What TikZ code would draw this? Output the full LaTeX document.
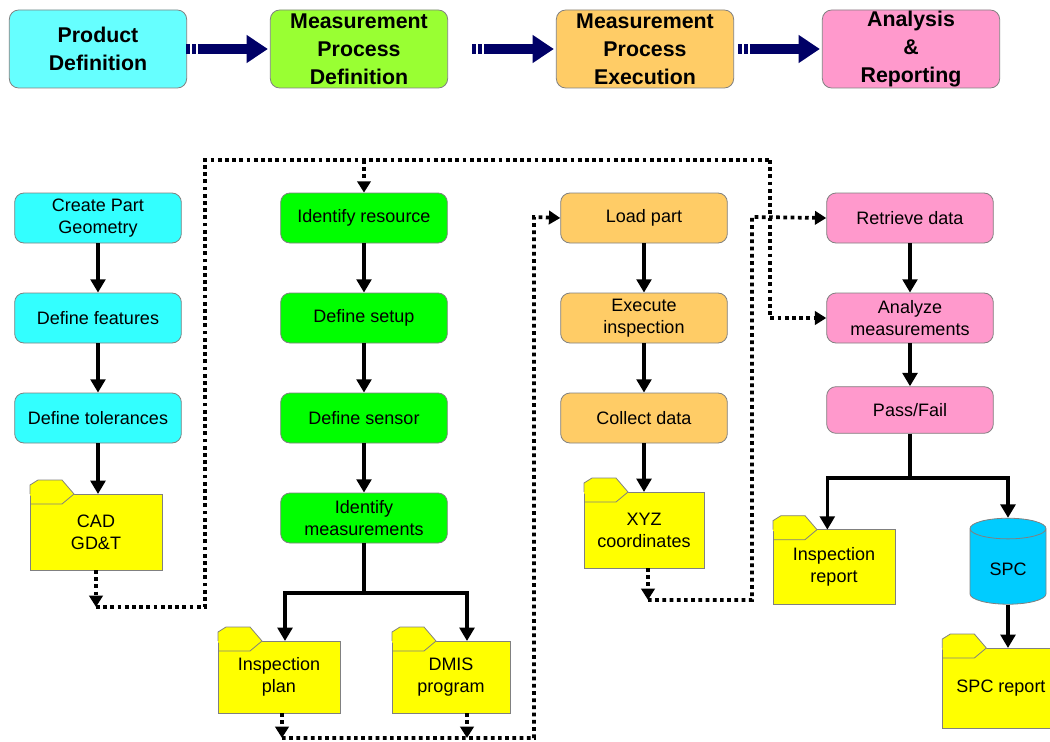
\documentclass[tikz,border=0pt]{standalone}
\usepackage{fontspec}
\setmainfont{Liberation Sans}
\usepackage{tikz}
\usetikzlibrary{positioning, arrows.meta, shapes.geometric}
\usepackage{xcolor}

\definecolor{hdrcyan}{RGB}{102,255,255}
\definecolor{hdrgreen}{RGB}{153,255,51}
\definecolor{hdrorange}{RGB}{255,204,102}
\definecolor{hdrpink}{RGB}{255,153,204}
\definecolor{boxcyan}{RGB}{51,255,255}
\definecolor{boxgreen}{RGB}{0,255,0}
\definecolor{folderyellow}{RGB}{255,255,0}
\definecolor{spcblue}{RGB}{0,204,255}
\definecolor{navyarrow}{RGB}{0,0,102}
\definecolor{edgegray}{RGB}{128,128,128}

\newcommand{\foldertab}[1]{%
  \fill[folderyellow] (#1.north west) -- ++(0,-9) -- ++(8,-5) -- ++(24,0) -- ++(12,14) -- ++(0,1.5) -- ++(-44,0) -- cycle;
  \draw[edgegray] (#1.north west) -- ++(0,-9) -- ++(8,-5) -- ++(24,0) -- ++(12,14);
  \draw[edgegray] (#1.north west) ++(0,10) -- ++(32,0) -- ++(12,-10);
}

\begin{document}
\begin{tikzpicture}[x=0.75pt, y=-0.75pt, >={Triangle[width=11pt,length=10pt]},
                node distance=75pt, semithick,
                hdr/.style={draw=edgegray, rounded corners=7pt, minimum width=133pt, minimum height=58.5pt,
                            inner ysep=0pt, align=center, font=\fontsize{16}{21}\selectfont\bfseries},
                task/.style={draw=edgegray, rounded corners=7pt, minimum width=125pt, minimum height=37.5pt,
                             align=center, font=\fontsize{13.5}{16.5}\selectfont},
                folder/.style={draw=edgegray, fill=folderyellow, outer sep=0pt, align=center,
                               font=\fontsize{13.5}{16.5}\selectfont},
                flow/.style={->, line width=2.6pt},
                link/.style={line width=2.6pt},
                dots/.style={line width=2.8pt, dash pattern=on 2.8pt off 2.6pt},
                dotflow/.style={dots, -{Triangle[width=10pt,length=8.5pt]}},
                bigarrow/.style={-{Triangle[width=20pt,length=16pt]}, line width=7.5pt, navyarrow,
                                 dash pattern=on 3pt off 1.5pt on 3pt off 1.5pt on 100pt off 0pt, shorten >=1.5pt}]

                \useasboundingbox (0,0) rectangle (1050,742);
                \clip (0,0) rectangle (1050,742);

                \node[hdr, fill=hdrcyan] (hprod) at (98,49) {Product\\Definition};
                \node[hdr, fill=hdrgreen] (hmpd) at (359,49) {Measurement\\Process\\Definition};
                \node[hdr, fill=hdrorange] (hmpe) at (645,49) {Measurement\\Process\\Execution};
                \node[hdr, fill=hdrpink] (hanr) at (911,49) {Analysis\\\&\\Reporting};

                \draw[bigarrow] ([xshift=-63pt]hmpd.west) -- (hmpd.west);
                \draw[bigarrow] ([xshift=-63pt]hmpe.west) -- (hmpe.west);
                \draw[bigarrow] ([xshift=-63pt]hanr.west) -- (hanr.west);

                \node[task, fill=boxcyan] (cpg) at (98,218) {Create Part\\Geometry};
                \node[task, fill=boxcyan] (dfeat) [below of=cpg] {Define features};
                \node[task, fill=boxcyan] (dtol) [below of=dfeat] {Define tolerances};
                \node[folder, minimum width=99pt, minimum height=57pt] (cad) at (96,532) {CAD\\GD\&T};

                \node[task, fill=boxgreen] (idres) at (364,218) {Identify resource};
                \node[task, fill=boxgreen] (dsetup) [below of=idres] {Define setup};
                \node[task, fill=boxgreen] (dsens) [below of=dsetup] {Define sensor};
                \node[task, fill=boxgreen] (idmeas) [below of=dsens] {Identify\\measurements};
                \node[folder, minimum width=91.5pt, minimum height=54pt] (plan) at (279,677) {Inspection\\plan};
                \node[folder, minimum width=88.5pt, minimum height=54pt] (dmis) at (451,677) {DMIS\\program};

                \node[task, fill=hdrorange] (load) at (644,218) {Load part};
                \node[task, fill=hdrorange] (exec) [below of=load] {Execute\\inspection};
                \node[task, fill=hdrorange] (collect) [below of=exec] {Collect data};
                \node[folder, minimum width=90pt, minimum height=57pt] (xyz) at (644,530) {XYZ\\coordinates};

                \node[task, fill=hdrpink] (retr) at (910,218) {Retrieve data};
                \node[task, fill=hdrpink] (analyze) [below of=retr] {Analyze\\measurements};
                \node[task, fill=hdrpink, minimum height=35pt] (pass) at (910,410) {Pass/Fail};
                \node[folder, minimum width=91.5pt, minimum height=56pt] (insprep) at (834,567) {Inspection\\report};
                \node[cylinder, shape border rotate=90, aspect=0.45, draw=edgegray, fill=spcblue,
                      minimum width=57pt, minimum height=64.5pt, font=\fontsize{13.5}{16.5}\selectfont] (spc) at (1008,569) {SPC};
                \node[folder, minimum width=88pt, minimum height=60pt] (spcrep) at (1001,688) {SPC report};

                \foldertab{cad}
                \foldertab{plan}
                \foldertab{dmis}
                \foldertab{xyz}
                \foldertab{insprep}
                \foldertab{spcrep}

                \coordinate (mfork) at (364,593);
                \coordinate (pfork) at (910,478);
                \coordinate (cadbus) at (96,607);
                \coordinate (lbend) at (205,160);
                \coordinate (rbend) at (770,160);
                \coordinate (planbus) at (282,738);
                \coordinate (dmisbus) at (467,738);
                \coordinate (loadbend) at (534,217);
                \coordinate (xyzbus) at (648,600);
                \coordinate (retrbend) at (752,217);

                \path[flow]
                (cpg) edge (dfeat)
                (dfeat) edge (dtol)
                (dtol.south) edge (dtol.south |- cad.north)
                (idres) edge (dsetup)
                (dsetup) edge (dsens)
                (dsens) edge (idmeas)
                (load) edge (exec)
                (exec) edge (collect)
                (collect) edge (xyz)
                (retr) edge (analyze)
                (analyze) edge (pass);

                \draw[link] (idmeas) -- (mfork);
                \draw[flow] (mfork) -| ([xshift=4.5pt]plan.north);
                \draw[flow] (mfork) -| ([xshift=12pt]dmis.north);
                \draw[link] (pass) -- (pfork);
                \draw[flow] (pfork) -| ([xshift=-5pt]insprep.north);
                \draw[flow] (pfork) -| (spc.north);
                \draw[flow] (spc.south) -- (spc.south |- spcrep.north);

                \draw[dotflow] (cad.south) -- (cadbus);
                \draw[dots] (cadbus) -| (lbend) -- (rbend);
                \draw[dotflow] (rbend) |- (analyze.west);
                \draw[dotflow] (idres.north |- lbend) -- (idres.north);
                \draw[dotflow] (plan.south -| planbus) -- (planbus);
                \draw[dotflow] (dmis.south -| dmisbus) -- (dmisbus);
                \draw[dotflow] (planbus) -| (loadbend) -- (load.west);
                \draw[dotflow] (xyz.south -| xyzbus) -- (xyzbus);
                \draw[dotflow] (xyzbus) -| (retrbend) -- (retr.west);

            \end{tikzpicture}
\end{document}
